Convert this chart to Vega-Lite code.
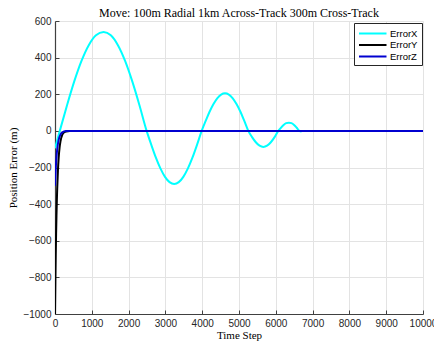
{
  "$schema": "https://vega.github.io/schema/vega-lite/v6.json",
  "width": 368,
  "height": 293,
  "autosize": "none",
  "padding": {"left": 55, "top": 21, "right": 11, "bottom": 31},
  "background": "white",
  "title": {
    "text": "Move: 100m Radial 1km Across-Track 300m Cross-Track",
    "font": "Liberation Serif",
    "fontSize": 12,
    "fontWeight": "normal",
    "color": "#000000",
    "anchor": "middle",
    "offset": -4
  },
  "config": {
    "view": {"stroke": null},
    "axis": {
      "labelFont": "Liberation Sans",
      "labelFontSize": 10,
      "labelColor": "#262626",
      "titleFont": "Liberation Serif",
      "titleFontSize": 11,
      "titleFontWeight": "normal",
      "titleColor": "#000000",
      "domainColor": "#404040",
      "domainWidth": 1.2,
      "tickColor": "#404040",
      "tickSize": -4,
      "gridColor": "#e3e3e3",
      "gridWidth": 1
    }
  },
  "data": {
    "values": [
      {"t": 0, "v": -95, "series": "ErrorX"},
      {"t": 130, "v": 0, "series": "ErrorX"},
      {"t": 327, "v": 140, "series": "ErrorX"},
      {"t": 523, "v": 270, "series": "ErrorX"},
      {"t": 720, "v": 382, "series": "ErrorX"},
      {"t": 917, "v": 468, "series": "ErrorX"},
      {"t": 1113, "v": 522, "series": "ErrorX"},
      {"t": 1320, "v": 540, "series": "ErrorX"},
      {"t": 1517, "v": 522, "series": "ErrorX"},
      {"t": 1710, "v": 468, "series": "ErrorX"},
      {"t": 1905, "v": 382, "series": "ErrorX"},
      {"t": 2100, "v": 270, "series": "ErrorX"},
      {"t": 2295, "v": 140, "series": "ErrorX"},
      {"t": 2490, "v": 0, "series": "ErrorX"},
      {"t": 2615, "v": -75, "series": "ErrorX"},
      {"t": 2739, "v": -145, "series": "ErrorX"},
      {"t": 2864, "v": -205, "series": "ErrorX"},
      {"t": 2989, "v": -251, "series": "ErrorX"},
      {"t": 3113, "v": -280, "series": "ErrorX"},
      {"t": 3238, "v": -290, "series": "ErrorX"},
      {"t": 3363, "v": -280, "series": "ErrorX"},
      {"t": 3487, "v": -251, "series": "ErrorX"},
      {"t": 3612, "v": -205, "series": "ErrorX"},
      {"t": 3737, "v": -145, "series": "ErrorX"},
      {"t": 3861, "v": -75, "series": "ErrorX"},
      {"t": 3986, "v": 0, "series": "ErrorX"},
      {"t": 4092, "v": 53, "series": "ErrorX"},
      {"t": 4197, "v": 103, "series": "ErrorX"},
      {"t": 4303, "v": 145, "series": "ErrorX"},
      {"t": 4408, "v": 178, "series": "ErrorX"},
      {"t": 4514, "v": 198, "series": "ErrorX"},
      {"t": 4620, "v": 205, "series": "ErrorX"},
      {"t": 4725, "v": 198, "series": "ErrorX"},
      {"t": 4831, "v": 178, "series": "ErrorX"},
      {"t": 4936, "v": 145, "series": "ErrorX"},
      {"t": 5042, "v": 103, "series": "ErrorX"},
      {"t": 5147, "v": 53, "series": "ErrorX"},
      {"t": 5253, "v": 0, "series": "ErrorX"},
      {"t": 5355, "v": -34, "series": "ErrorX"},
      {"t": 5457, "v": -62, "series": "ErrorX"},
      {"t": 5559, "v": -81, "series": "ErrorX"},
      {"t": 5661, "v": -88, "series": "ErrorX"},
      {"t": 5763, "v": -81, "series": "ErrorX"},
      {"t": 5865, "v": -62, "series": "ErrorX"},
      {"t": 5967, "v": -34, "series": "ErrorX"},
      {"t": 6069, "v": 0, "series": "ErrorX"},
      {"t": 6140, "v": 17, "series": "ErrorX"},
      {"t": 6212, "v": 32, "series": "ErrorX"},
      {"t": 6283, "v": 42, "series": "ErrorX"},
      {"t": 6355, "v": 45, "series": "ErrorX"},
      {"t": 6426, "v": 42, "series": "ErrorX"},
      {"t": 6497, "v": 32, "series": "ErrorX"},
      {"t": 6569, "v": 17, "series": "ErrorX"},
      {"t": 6640, "v": 0, "series": "ErrorX"},
      {"t": 6700, "v": -3, "series": "ErrorX"},
      {"t": 0, "v": -1000, "series": "ErrorY"},
      {"t": 10, "v": -825, "series": "ErrorY"},
      {"t": 20, "v": -681, "series": "ErrorY"},
      {"t": 30, "v": -562, "series": "ErrorY"},
      {"t": 40, "v": -463, "series": "ErrorY"},
      {"t": 50, "v": -382, "series": "ErrorY"},
      {"t": 60, "v": -315, "series": "ErrorY"},
      {"t": 80, "v": -215, "series": "ErrorY"},
      {"t": 100, "v": -146, "series": "ErrorY"},
      {"t": 125, "v": -90, "series": "ErrorY"},
      {"t": 150, "v": -56, "series": "ErrorY"},
      {"t": 200, "v": -21, "series": "ErrorY"},
      {"t": 250, "v": -8, "series": "ErrorY"},
      {"t": 300, "v": -3, "series": "ErrorY"},
      {"t": 400, "v": 0, "series": "ErrorY"},
      {"t": 10000, "v": 0, "series": "ErrorY"},
      {"t": 0, "v": -300, "series": "ErrorZ"},
      {"t": 25, "v": -190, "series": "ErrorZ"},
      {"t": 50, "v": -121, "series": "ErrorZ"},
      {"t": 75, "v": -77, "series": "ErrorZ"},
      {"t": 100, "v": -49, "series": "ErrorZ"},
      {"t": 150, "v": -20, "series": "ErrorZ"},
      {"t": 200, "v": -8, "series": "ErrorZ"},
      {"t": 300, "v": -1, "series": "ErrorZ"},
      {"t": 400, "v": 0, "series": "ErrorZ"},
      {"t": 10000, "v": 0, "series": "ErrorZ"}
    ]
  },
  "mark": {"type": "line", "interpolate": "monotone", "strokeWidth": 2, "clip": true},
  "encoding": {
    "x": {
      "field": "t",
      "type": "quantitative",
      "scale": {"domain": [0, 10000], "nice": false, "zero": false},
      "axis": {
        "title": "Time Step",
        "values": [0, 1000, 2000, 3000, 4000, 5000, 6000, 7000, 8000, 9000, 10000],
        "format": "d",
        "labelPadding": 8,
        "titlePadding": 1,
        "labelFlush": false,
        "labelOverlap": false
      }
    },
    "y": {
      "field": "v",
      "type": "quantitative",
      "scale": {"domain": [-1000, 600], "nice": false, "zero": false},
      "axis": {
        "title": "Position Error (m)",
        "values": [-1000, -800, -600, -400, -200, 0, 200, 400, 600],
        "format": "d",
        "labelPadding": 8,
        "titlePadding": 4,
        "labelFlush": false,
        "labelOverlap": false
      }
    },
    "color": {
      "field": "series",
      "type": "nominal",
      "scale": {"domain": ["ErrorX", "ErrorY", "ErrorZ"], "range": ["#00ffff", "#000000", "#0000d0"]},
      "legend": {
        "title": null,
        "orient": "none",
        "legendX": 299,
        "legendY": 2,
        "strokeColor": "#262626",
        "fillColor": "white",
        "padding": 4,
        "cornerRadius": 0,
        "symbolType": "M-1,0H4",
        "symbolSize": 121,
        "symbolStrokeWidth": 2,
        "labelFont": "Liberation Sans",
        "labelFontSize": 9.5,
        "labelColor": "#000000",
        "labelOffset": 19,
        "rowPadding": 0.5
      }
    }
  }
}
